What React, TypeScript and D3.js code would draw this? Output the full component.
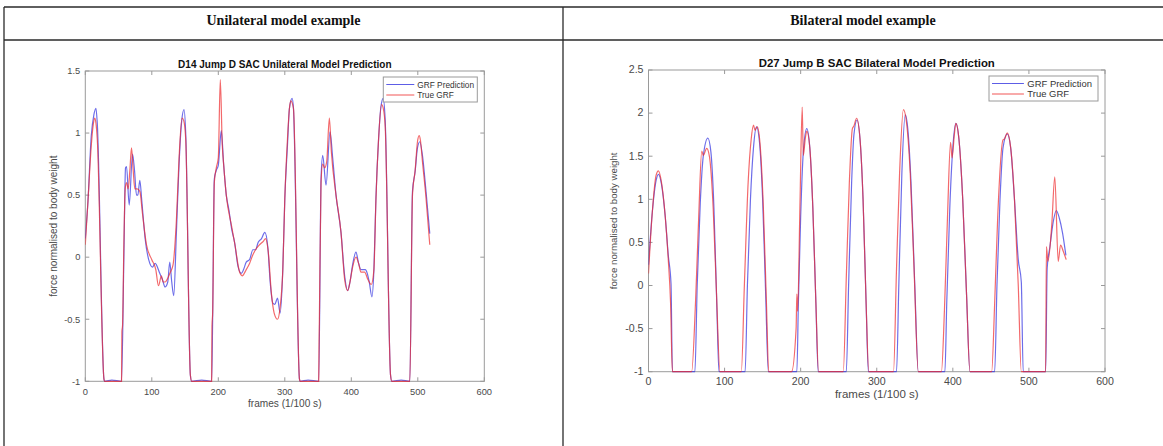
import React, { useEffect, useRef } from "react";
import * as d3 from "d3";

// table headers and axis ticks
const headers = ["Unilateral model example", "Bilateral model example"];
const xTicks = [0, 100, 200, 300, 400, 500, 600];
const uniYTicks = [-1, -0.5, 0, 0.5, 1, 1.5];
const biYTicks = [-1, -0.5, 0, 0.5, 1, 1.5, 2, 2.5];
const legendNames = ["GRF Prediction", "True GRF"];
const uniTitle = "D14 Jump D SAC Unilateral Model Prediction";
const biTitle = "D27 Jump B SAC Bilateral Model Prediction";

// [frame, force]
const uniPrediction = [
  [0, 0.15], [4, 0.45], [9, 0.98], [13, 1.15], [16, 1.2], [18, 1.08], [28, -0.98], [29, -1],
  [40, -0.99], [54.5, -1], [58, 0.0], [60.5, 0.72], [62, 0.73], [66, 0.42], [71, 0.83],
  [74, 0.7], [77, 0.5], [79, 0.5], [82, 0.62], [85, 0.45], [90, 0.15], [97, -0.05],
  [101, -0.08], [105, -0.05], [112, -0.13], [116, -0.18], [120, -0.24], [124, -0.2],
  [127, -0.04], [130, -0.2], [133, -0.31], [137, 0.2], [141, 0.75], [145, 1.1],
  [148.5, 1.19], [151, 1.0], [158, -0.95], [160, -1], [175, -0.99], [190, -1],
  [191.5, -0.5], [194, 0.63], [197, 0.7], [200, 0.74], [204.5, 1.02], [208, 0.75],
  [212, 0.5], [216, 0.38], [220, 0.23], [224.5, 0.12], [229.5, -0.07], [234.5, -0.13],
  [238, -0.1], [242, -0.04], [247, -0.02], [252, 0.06], [256, 0.06], [260, 0.12],
  [265, 0.15], [270, 0.2], [274.5, 0.08], [278, -0.2], [282, -0.37], [285, -0.38],
  [289, -0.33], [293, -0.45], [297, -0.1], [300, 0.47], [304, 0.9], [307, 1.2],
  [311, 1.28], [313, 1.2], [322, -0.98], [323, -1], [335, -0.99], [351, -1],
  [354.5, 0.63], [357, 0.82], [362, 0.58], [368, 1.01], [372, 0.8], [377, 0.5],
  [384.5, 0.2], [390, -0.15], [394.5, -0.27], [398, -0.2], [402, -0.06], [407, 0.04],
  [411, -0.05], [414.5, -0.1], [421, -0.1], [424, -0.13], [427, -0.2], [431, -0.32],
  [434, -0.1], [437, 0.47], [441, 0.95], [444.5, 1.21], [448, 1.28], [451, 1.1],
  [459, -0.95], [461, -1], [475, -0.99], [488, -1], [492, 0.53], [496, 0.69],
  [499.5, 0.88], [503, 0.93], [507, 0.82], [512, 0.55], [518, 0.19]
];

const uniTruth = [
  [0, 0.1], [4, 0.45], [9, 0.9], [12, 1.07], [14, 1.12], [16, 1.08], [18, 0.95], [28, -0.98],
  [29, -1], [40, -1], [54.5, -1], [55, -0.6], [56, -0.55], [58, 0.1], [60, 0.55], [62, 0.6],
  [64.5, 0.55], [67, 0.7], [69.5, 0.88], [72, 0.7], [74.5, 0.55], [78, 0.55], [82, 0.53],
  [86, 0.35], [92, 0.1], [100, -0.02], [106, -0.1], [110, -0.23], [114.5, -0.15],
  [117, -0.2], [120, -0.2], [124, -0.17], [128, -0.12], [132, -0.06], [137, 0.3],
  [141, 0.8], [145.5, 1.12], [148, 1.1], [151, 0.95], [158, -0.95], [160, -1],
  [175, -1], [190, -1], [190.5, -0.55], [191.5, -0.45], [194, 0.6], [197, 0.72],
  [200, 0.8], [203, 1.43], [206, 0.9], [208, 0.75], [212, 0.5], [220, 0.25], [225, 0.1],
  [232, -0.12], [236, -0.15], [242, -0.1], [247, -0.05], [252, 0.02], [256, 0.06],
  [262, 0.1], [268, 0.13], [271, 0.15], [275, 0.05], [280, -0.3], [284, -0.45],
  [289, -0.5], [293, -0.4], [297, -0.1], [300, 0.47], [304, 0.95], [307, 1.2],
  [309, 1.26], [313, 1.2], [322, -0.98], [323, -1], [335, -1], [351, -1],
  [351.5, -0.7], [352, -0.5], [354.5, 0.6], [357, 0.75], [360, 0.72], [363, 0.77],
  [367, 1.12], [370, 0.85], [377, 0.5], [384.5, 0.2], [390, -0.18], [394.5, -0.27],
  [398, -0.2], [402, -0.08], [407, 0.0], [411, -0.05], [414.5, -0.12], [420, -0.12],
  [425, -0.18], [430, -0.22], [434, -0.1], [437, 0.45], [441, 0.95], [445.5, 1.23],
  [448, 1.2], [451, 1.05], [459, -0.95], [461, -1], [475, -1], [488, -1], [492, 0.5],
  [496, 0.7], [499.5, 0.93], [502, 0.98], [504, 0.94], [507, 0.77], [512, 0.5], [518, 0.1]
];

// [frame, force]
const biPrediction = [
  [0, 0.24], [5, 0.85], [10, 1.22], [13, 1.29], [17, 1.18], [22, 0.8], [26, 0.35],
  [29.6, 0.02], [31.4, -1], [45, -1], [61, -1], [64, 0.0], [68, 0.95], [72, 1.5],
  [78, 1.71], [82, 1.55], [86, 0.9], [90, -0.3], [92.6, -1], [110, -1], [127, -1],
  [130, 0.0], [134, 1.0], [138, 1.6], [142, 1.84], [146, 1.65], [150, 1.0], [154, -0.1],
  [157.5, -1], [175, -1], [195, -1], [197, -0.2], [200, 0.8], [203.5, 1.55], [208, 1.82],
  [212, 1.6], [216, 0.9], [220, -0.2], [223, -1], [240, -1], [260, -1], [263, 0.0],
  [267, 1.2], [270, 1.75], [274, 1.92], [278, 1.7], [282, 1.0], [286, -0.2], [289, -1],
  [305, -1], [326, -1], [329, 0.0], [333, 1.3], [337.5, 1.98], [341, 1.8], [345, 1.2],
  [350, 0.0], [354.6, -1], [370, -1], [389.6, -1], [392, -0.2], [396, 0.9], [400, 1.6],
  [404, 1.88], [408, 1.7], [413, 1.0], [418, -0.1], [422.5, -1], [440, -1], [455, -1],
  [458, 0.0], [462, 1.0], [466, 1.6], [471.5, 1.76], [476, 1.6], [481, 1.0], [486, 0.3],
  [490, 0.04], [492.5, -1], [505, -1], [522, -1], [524, 0.2], [527.6, 0.45], [532, 0.74],
  [536, 0.87], [540, 0.78], [544, 0.62], [548.6, 0.35]
];

const biTruth = [
  [0, 0.14], [5, 0.85], [10, 1.28], [13, 1.33], [17, 1.2], [22, 0.8], [26, 0.3],
  [29, -0.2], [31.4, -1], [45, -1], [56.7, -1], [62, -0.15], [66, 0.8], [70, 1.56],
  [72, 1.51], [76.5, 1.59], [80, 1.5], [85, 0.9], [89, 0.0], [94, -1], [110, -1],
  [122, -1], [126, 0.0], [131, 1.2], [135, 1.7], [138, 1.86], [140, 1.8], [143, 1.84],
  [147, 1.6], [151, 0.9], [155, -0.2], [158, -1], [175, -1], [188, -1], [194, -0.5],
  [195, -0.1], [196, -0.3], [199, 0.9], [202, 2.07], [203.5, 1.51], [206, 1.7],
  [208, 1.79], [212, 1.6], [216, 0.9], [220, -0.2], [223.5, -1], [240, -1], [256, -1],
  [260, 0.1], [264, 1.2], [268, 1.82], [270, 1.85], [273.5, 1.94], [278, 1.7], [282, 1.0],
  [286, -0.2], [289.5, -1], [305, -1], [322, -1], [326, 0.2], [330, 1.3], [335, 2.04],
  [339, 1.9], [344, 1.3], [349, 0.2], [354.6, -1], [370, -1], [385, -1], [389, -0.28],
  [393, 0.8], [397, 1.66], [399, 1.48], [402, 1.75], [404, 1.88], [408, 1.7], [413, 1.0],
  [418, -0.1], [422.5, -1], [440, -1], [451, -1], [455, -0.2], [459, 0.8], [466, 1.69],
  [468, 1.7], [471.5, 1.77], [476, 1.6], [481, 1.0], [486, 0.0], [490, -1], [505, -1],
  [522, -1], [523, 0.45], [525, 0.28], [530, 0.7], [534, 1.26], [538.5, 0.28],
  [541.6, 0.47], [545, 0.4], [549, 0.3]
];

const predColor = "#3434e0";
const truthColor = "#ee2a2c";
const axisColor = "#9a9a9a";
const labelColor = "#4a4a4a";
const font = "'Liberation Sans', Arial, sans-serif";

function drawPanel(svg, cfg) {
  const x = d3.scaleLinear().domain([0, 600]).range([cfg.left, cfg.right]);
  const y = d3.scaleLinear().domain(cfg.yDomain).range([cfg.bottom, cfg.top]);
  const s = cfg.fs;
  const g = svg.append("g");

  g.append("rect")
    .attr("x", cfg.left)
    .attr("y", cfg.top)
    .attr("width", cfg.right - cfg.left)
    .attr("height", cfg.bottom - cfg.top)
    .attr("fill", "#fff")
    .attr("stroke", axisColor)
    .attr("stroke-width", 1);

  // inward ticks on all four sides (matlab box on)
  const tl = 4;
  xTicks.forEach(t => {
    g.append("line").attr("x1", x(t)).attr("x2", x(t)).attr("y1", cfg.bottom).attr("y2", cfg.bottom - tl).attr("stroke", axisColor);
    g.append("line").attr("x1", x(t)).attr("x2", x(t)).attr("y1", cfg.top).attr("y2", cfg.top + tl).attr("stroke", axisColor);
    g.append("text")
      .attr("x", x(t))
      .attr("y", cfg.bottom + 13.5)
      .attr("text-anchor", "middle")
      .style("font-family", font)
      .style("font-size", 9.3 * s + "px")
      .style("fill", labelColor)
      .text(t);
  });
  cfg.yTicks.forEach(t => {
    g.append("line").attr("x1", cfg.left).attr("x2", cfg.left + tl).attr("y1", y(t)).attr("y2", y(t)).attr("stroke", axisColor);
    g.append("line").attr("x1", cfg.right).attr("x2", cfg.right - tl).attr("y1", y(t)).attr("y2", y(t)).attr("stroke", axisColor);
    g.append("text")
      .attr("x", cfg.left - 5)
      .attr("y", y(t) + 3.3)
      .attr("text-anchor", "end")
      .style("font-family", font)
      .style("font-size", 9.3 * s + "px")
      .style("fill", labelColor)
      .text(t);
  });

  const clipId = "clip-" + cfg.id;
  svg.append("defs").append("clipPath").attr("id", clipId)
    .append("rect")
    .attr("x", cfg.left).attr("y", cfg.top - 2)
    .attr("width", cfg.right - cfg.left).attr("height", cfg.bottom - cfg.top + 4);

  const line = d3.line()
    .x(d => x(d[0]))
    .y(d => y(d[1]))
    .curve(d3.curveMonotoneX);

  const plot = g.append("g").attr("clip-path", "url(#" + clipId + ")");
  plot.append("path").datum(cfg.pred)
    .attr("d", line).attr("fill", "none")
    .attr("stroke", predColor).attr("stroke-width", 1.2).attr("stroke-opacity", 0.72);
  plot.append("path").datum(cfg.truth)
    .attr("d", line).attr("fill", "none")
    .attr("stroke", truthColor).attr("stroke-width", 1.2).attr("stroke-opacity", 0.7);

  // title and axis labels
  g.append("text")
    .attr("x", (cfg.left + cfg.right) / 2)
    .attr("y", cfg.top - 3.5)
    .attr("text-anchor", "middle")
    .style("font-family", font)
    .style("font-weight", "bold")
    .style("font-size", 10 * s + "px")
    .style("fill", "#111")
    .text(cfg.title);
  g.append("text")
    .attr("x", (cfg.left + cfg.right) / 2)
    .attr("y", cfg.bottom + 26)
    .attr("text-anchor", "middle")
    .style("font-family", font)
    .style("font-size", 10.1 * s + "px")
    .style("fill", labelColor)
    .text("frames (1/100 s)");
  g.append("text")
    .attr("transform", "translate(" + (cfg.left - cfg.yLabelOffset) + "," + (cfg.top + cfg.bottom) / 2 + ") rotate(-90)")
    .attr("text-anchor", "middle")
    .style("font-family", font)
    .style("font-size", cfg.yLabelSize + "px")
    .style("fill", labelColor)
    .text("force normalised to body weight");

  // legend
  const lg = g.append("g");
  const bx = cfg.right - cfg.legendW - 7;
  lg.append("rect")
    .attr("x", bx)
    .attr("y", cfg.top + 6)
    .attr("width", cfg.legendW)
    .attr("height", 25)
    .attr("fill", "#fff")
    .attr("stroke", axisColor);
  [predColor, truthColor].forEach((c, i) => {
    const ly = cfg.top + 13.5 + i * 10.5;
    const lx = bx + 3;
    lg.append("line")
      .attr("x1", lx).attr("x2", lx + 28 * s)
      .attr("y1", ly).attr("y2", ly)
      .attr("stroke", c).attr("stroke-opacity", 0.8);
    lg.append("text")
      .attr("x", lx + 31 * s)
      .attr("y", ly + 3)
      .style("font-family", font)
      .style("font-size", 8.3 * s + "px")
      .style("fill", "#333")
      .text(legendNames[i]);
  });
}

export default function App() {
  const ref = useRef(null);

  useEffect(() => {
    const svg = d3.select(ref.current);
    svg.selectAll("*").remove();

    // table frame
    const tc = "#2a2a2a";
    svg.append("line").attr("x1", 4).attr("x2", 1163).attr("y1", 7).attr("y2", 7).attr("stroke", tc).attr("stroke-width", 1.3);
    svg.append("line").attr("x1", 4).attr("x2", 1163).attr("y1", 40).attr("y2", 40).attr("stroke", tc).attr("stroke-width", 1.3);
    svg.append("line").attr("x1", 4).attr("x2", 4).attr("y1", 7).attr("y2", 446).attr("stroke", tc).attr("stroke-width", 1.3);
    svg.append("line").attr("x1", 563).attr("x2", 563).attr("y1", 7).attr("y2", 446).attr("stroke", tc).attr("stroke-width", 1.3);

    [283.5, 863].forEach((cx, i) => {
      svg.append("text")
        .attr("x", cx)
        .attr("y", 25)
        .attr("text-anchor", "middle")
        .style("font-family", "'Liberation Serif', 'DejaVu Serif', serif")
        .style("font-weight", "bold")
        .style("font-size", "14px")
        .style("fill", "#111")
        .text(headers[i]);
    });

    drawPanel(svg, {
      id: "uni",
      left: 85.3, right: 484.3, top: 71, bottom: 381.3,
      yDomain: [-1, 1.5], yTicks: uniYTicks,
      title: uniTitle, pred: uniPrediction, truth: uniTruth,
      fs: 1, legendW: 94, yLabelOffset: 28, yLabelSize: 10
    });
    drawPanel(svg, {
      id: "bi",
      left: 648.5, right: 1105, top: 70, bottom: 371.7,
      yDomain: [-1, 2.5], yTicks: biYTicks,
      title: biTitle, pred: biPrediction, truth: biTruth,
      fs: 1.14, legendW: 109, yLabelOffset: 32, yLabelSize: 9.7
    });
  }, []);

  return (
    <svg
      ref={ref}
      width={1163}
      height={446}
      style={{ position: "absolute", left: 0, top: 0, background: "#fff" }}
    />
  );
}
